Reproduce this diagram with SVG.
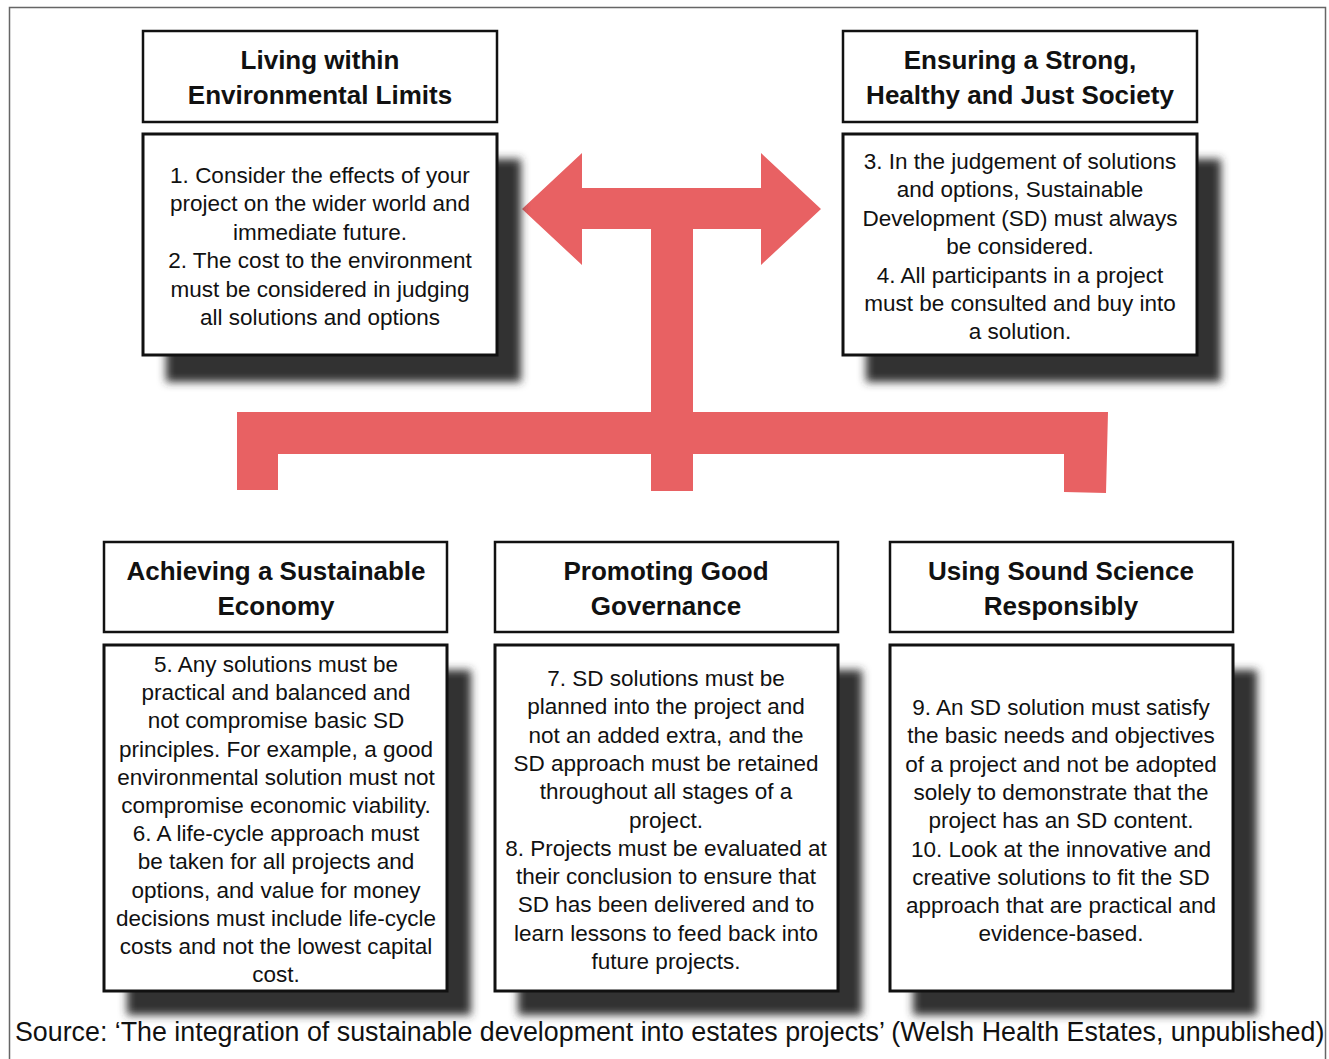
<svg xmlns="http://www.w3.org/2000/svg" width="1329" height="1059" viewBox="0 0 1329 1059">
<defs>
<filter id="blur" x="-10%" y="-10%" width="120%" height="120%"><feGaussianBlur stdDeviation="4"/></filter>
<style>
.frame{fill:none;stroke:#666;stroke-width:1.5}
.title{fill:#fff;stroke:#111;stroke-width:2.5}
.body{fill:#fff;stroke:#111;stroke-width:3}
.shadow{fill:#333;filter:url(#blur)}
.tt{font-family:"Liberation Sans",Arial,sans-serif;font-weight:bold;font-size:26px;fill:#111;text-anchor:middle}
.bt{font-family:"Liberation Sans",Arial,sans-serif;font-size:22.5px;fill:#111;text-anchor:middle}
.src{font-family:"Liberation Sans",Arial,sans-serif;font-size:26.8px;fill:#111}
.red{fill:#E86163}
</style>
</defs>
<rect width="1329" height="1059" fill="#fff"/>
<rect class="frame" x="9.5" y="7.5" width="1316" height="1080"/>

<g id="connectors">
<polygon class="red" points="522,209 582,153 582,188 761,188 761,153 821,209 761,265 761,229 693,229 693,412 1108,412 1106,493 1064,492 1064,454 693,454 693,491 651,491 651,454 278,454 278,490 237,490 237,412 651,412 651,229 582,229 582,265"/>
</g>

<g id="node1">
<rect class="shadow" x="166" y="159" width="355" height="223"/>
<rect class="title" x="143" y="31" width="354" height="91"/>
<rect class="body" x="143" y="134" width="354" height="221"/>
<text class="tt"><tspan x="320" y="69">Living within</tspan><tspan x="320" y="104">Environmental Limits</tspan></text>
<text class="bt"><tspan x="320" y="183">1. Consider the effects of your</tspan><tspan x="320" dy="28.4">project on the wider world and</tspan><tspan x="320" dy="28.4">immediate future.</tspan><tspan x="320" dy="28.4">2. The cost to the environment</tspan><tspan x="320" dy="28.4">must be considered in judging</tspan><tspan x="320" dy="28.4">all solutions and options</tspan></text>
</g>

<g id="node2">
<rect class="shadow" x="866" y="159" width="355" height="223"/>
<rect class="title" x="843" y="31" width="354" height="91"/>
<rect class="body" x="843" y="134" width="354" height="221"/>
<text class="tt"><tspan x="1020" y="69">Ensuring a Strong,</tspan><tspan x="1020" y="104">Healthy and Just Society</tspan></text>
<text class="bt"><tspan x="1020" y="169">3. In the judgement of solutions</tspan><tspan x="1020" dy="28.4">and options, Sustainable</tspan><tspan x="1020" dy="28.4">Development (SD) must always</tspan><tspan x="1020" dy="28.4">be considered.</tspan><tspan x="1020" dy="28.4">4. All participants in a project</tspan><tspan x="1020" dy="28.4">must be consulted and buy into</tspan><tspan x="1020" dy="28.4">a solution.</tspan></text>
</g>

<g id="node3">
<rect class="shadow" x="127" y="670" width="344" height="345"/>
<rect class="title" x="104" y="542" width="343" height="90"/>
<rect class="body" x="104" y="645" width="343" height="346"/>
<text class="tt"><tspan x="276" y="580">Achieving a Sustainable</tspan><tspan x="276" y="615">Economy</tspan></text>
<text class="bt"><tspan x="276" y="672">5. Any solutions must be</tspan><tspan x="276" dy="28.2">practical and balanced and</tspan><tspan x="276" dy="28.2">not compromise basic SD</tspan><tspan x="276" dy="28.2">principles. For example, a good</tspan><tspan x="276" dy="28.2">environmental solution must not</tspan><tspan x="276" dy="28.2">compromise economic viability.</tspan><tspan x="276" dy="28.2">6. A life-cycle approach must</tspan><tspan x="276" dy="28.2">be taken for all projects and</tspan><tspan x="276" dy="28.2">options, and value for money</tspan><tspan x="276" dy="28.2">decisions must include life-cycle</tspan><tspan x="276" dy="28.2">costs and not the lowest capital</tspan><tspan x="276" dy="28.2">cost.</tspan></text>
</g>

<g id="node4">
<rect class="shadow" x="518" y="670" width="344" height="345"/>
<rect class="title" x="495" y="542" width="343" height="90"/>
<rect class="body" x="495" y="645" width="343" height="346"/>
<text class="tt"><tspan x="666" y="580">Promoting Good</tspan><tspan x="666" y="615">Governance</tspan></text>
<text class="bt"><tspan x="666" y="686">7. SD solutions must be</tspan><tspan x="666" dy="28.3">planned into the project and</tspan><tspan x="666" dy="28.3">not an added extra, and the</tspan><tspan x="666" dy="28.3">SD approach must be retained</tspan><tspan x="666" dy="28.3">throughout all stages of a</tspan><tspan x="666" dy="28.3">project.</tspan><tspan x="666" dy="28.3">8. Projects must be evaluated at</tspan><tspan x="666" dy="28.3">their conclusion to ensure that</tspan><tspan x="666" dy="28.3">SD has been delivered and to</tspan><tspan x="666" dy="28.3">learn lessons to feed back into</tspan><tspan x="666" dy="28.3">future projects.</tspan></text>
</g>

<g id="node5">
<rect class="shadow" x="913" y="670" width="344" height="345"/>
<rect class="title" x="890" y="542" width="343" height="90"/>
<rect class="body" x="890" y="645" width="343" height="346"/>
<text class="tt"><tspan x="1061" y="580">Using Sound Science</tspan><tspan x="1061" y="615">Responsibly</tspan></text>
<text class="bt"><tspan x="1061" y="715">9. An SD solution must satisfy</tspan><tspan x="1061" dy="28.3">the basic needs and objectives</tspan><tspan x="1061" dy="28.3">of a project and not be adopted</tspan><tspan x="1061" dy="28.3">solely to demonstrate that the</tspan><tspan x="1061" dy="28.3">project has an SD content.</tspan><tspan x="1061" dy="28.3">10. Look at the innovative and</tspan><tspan x="1061" dy="28.3">creative solutions to fit the SD</tspan><tspan x="1061" dy="28.3">approach that are practical and</tspan><tspan x="1061" dy="28.3">evidence-based.</tspan></text>
</g>

<text class="src" x="15" y="1041">Source: ‘The integration of sustainable development into estates projects’ (Welsh Health Estates, unpublished)</text>
</svg>
